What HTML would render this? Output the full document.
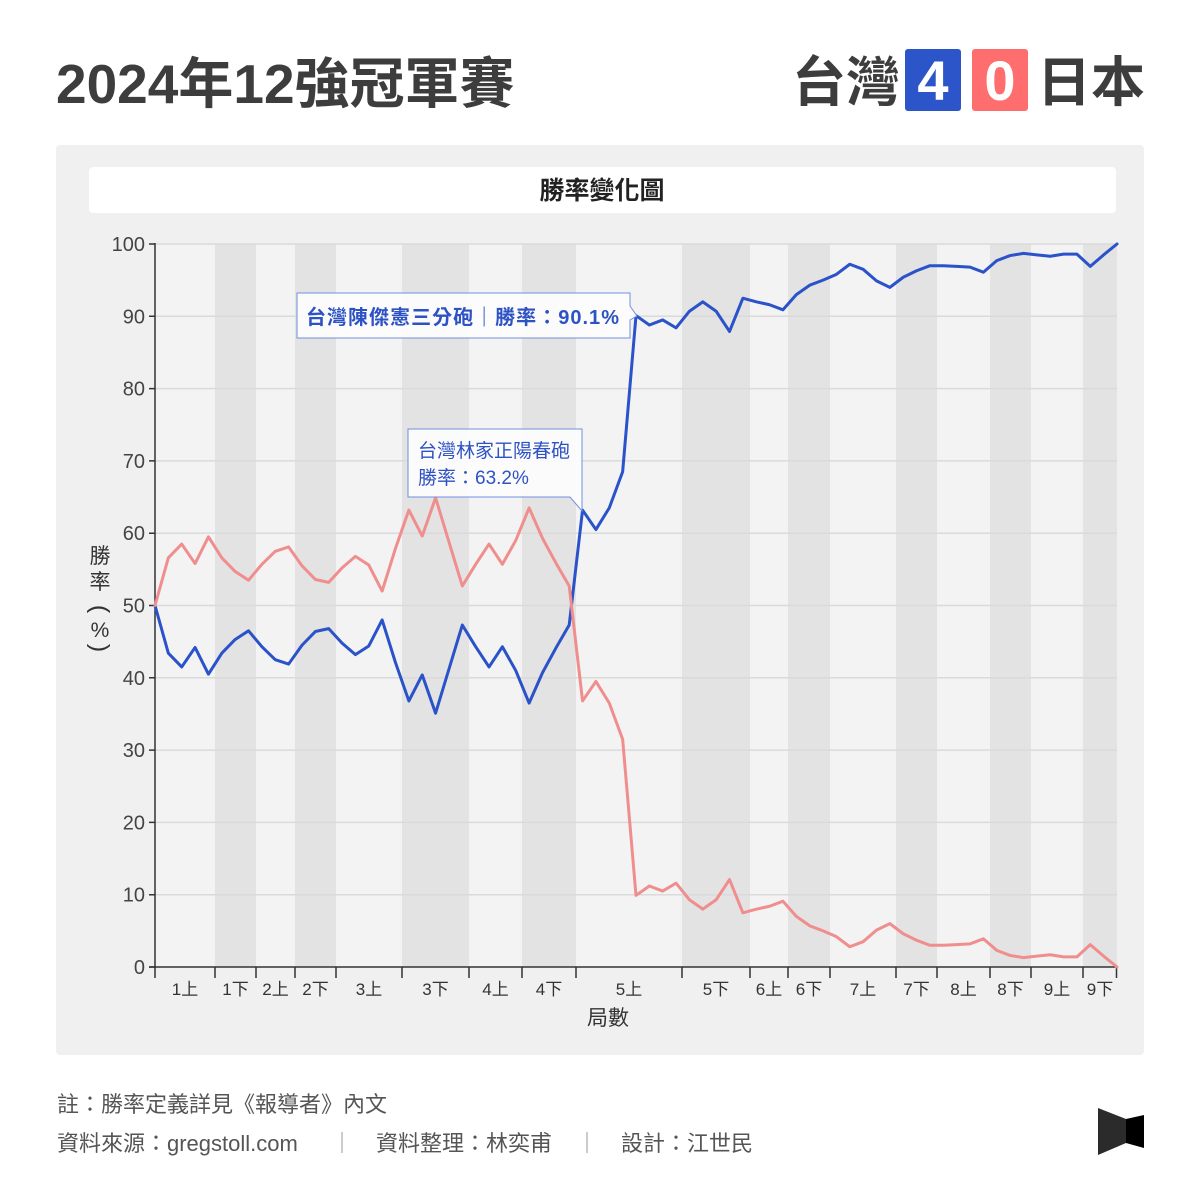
<!DOCTYPE html>
<html><head><meta charset="utf-8"><style>
html,body{margin:0;padding:0;background:#fff;}
svg{display:block;}
text{font-family:"Liberation Sans","Noto Sans CJK TC",sans-serif;}
</style></head><body>
<svg width="1200" height="1200" viewBox="0 0 1200 1200" xmlns="http://www.w3.org/2000/svg">
<rect width="1200" height="1200" fill="#fff"/>
<!-- Header -->
<text x="56" y="103" font-size="55" font-weight="bold" fill="#3d3d3d">2024年12強冠軍賽</text>
<text x="792" y="101" font-size="54" font-weight="bold" fill="#3d3d3d">台灣</text>
<rect x="905" y="49" width="56" height="62" rx="3" fill="#2b55c8"/>
<text x="933" y="100" font-size="56" font-weight="bold" fill="#fff" text-anchor="middle">4</text>
<rect x="972" y="49" width="56" height="62" rx="3" fill="#ff6e6e"/>
<text x="1000" y="100" font-size="56" font-weight="bold" fill="#fff" text-anchor="middle">0</text>
<text x="1037" y="101" font-size="54" font-weight="bold" fill="#3d3d3d">日本</text>

<!-- Card -->
<rect x="56" y="145" width="1088" height="910" rx="4" fill="#f0f0f0"/>
<rect x="89" y="167" width="1027" height="46" rx="4" fill="#fff"/>
<text x="602" y="199" font-size="25" font-weight="bold" fill="#222" text-anchor="middle">勝率變化圖</text>

<!-- Plot background -->
<rect x="155" y="244" width="962" height="723" fill="#f3f3f3"/>
<g fill="#e3e3e3">
<rect x="215" y="244" width="41" height="723"/>
<rect x="295" y="244" width="41" height="723"/>
<rect x="402" y="244" width="67" height="723"/>
<rect x="522" y="244" width="54" height="723"/>
<rect x="682" y="244" width="68" height="723"/>
<rect x="788" y="244" width="42" height="723"/>
<rect x="896" y="244" width="41" height="723"/>
<rect x="990" y="244" width="41" height="723"/>
<rect x="1083" y="244" width="34" height="723"/>
</g>
<!-- Gridlines -->
<g stroke="#dadada" stroke-width="1.5">
<line x1="155" x2="1117" y1="244" y2="244"/>
<line x1="155" x2="1117" y1="316.3" y2="316.3"/>
<line x1="155" x2="1117" y1="388.6" y2="388.6"/>
<line x1="155" x2="1117" y1="460.9" y2="460.9"/>
<line x1="155" x2="1117" y1="533.2" y2="533.2"/>
<line x1="155" x2="1117" y1="605.5" y2="605.5"/>
<line x1="155" x2="1117" y1="677.8" y2="677.8"/>
<line x1="155" x2="1117" y1="750.1" y2="750.1"/>
<line x1="155" x2="1117" y1="822.4" y2="822.4"/>
<line x1="155" x2="1117" y1="894.7" y2="894.7"/>
</g>

<!-- Axes -->
<g stroke="#333" stroke-width="1.5" fill="none">
<line x1="155" y1="243" x2="155" y2="968"/>
<line x1="149" y1="967" x2="1117" y2="967"/>
<path d="M149,244H155M149,316.3H155M149,388.6H155M149,460.9H155M149,533.2H155M149,605.5H155M149,677.8H155M149,750.1H155M149,822.4H155M149,894.7H155M149,967H155"/>
<path d="M155,967V978M215,967V978M256,967V978M295,967V978M336,967V978M402,967V978M469,967V978M522,967V978M576,967V978M682,967V978M750,967V978M788,967V978M830,967V978M896,967V978M937,967V978M990,967V978M1031,967V978M1083,967V978M1116.5,967V978"/>
</g>
<g font-size="20" fill="#444" text-anchor="end">
<text x="145" y="251">100</text>
<text x="145" y="323.3">90</text>
<text x="145" y="395.6">80</text>
<text x="145" y="467.9">70</text>
<text x="145" y="540.2">60</text>
<text x="145" y="612.5">50</text>
<text x="145" y="684.8">40</text>
<text x="145" y="757.1">30</text>
<text x="145" y="829.4">20</text>
<text x="145" y="901.7">10</text>
<text x="145" y="974">0</text>
</g>
<g font-size="17" fill="#333" text-anchor="middle">
<text x="185" y="995">1上</text>
<text x="235.5" y="995">1下</text>
<text x="275.5" y="995">2上</text>
<text x="315.5" y="995">2下</text>
<text x="369" y="995">3上</text>
<text x="435.5" y="995">3下</text>
<text x="495.5" y="995">4上</text>
<text x="549" y="995">4下</text>
<text x="629" y="995">5上</text>
<text x="716" y="995">5下</text>
<text x="769" y="995">6上</text>
<text x="809" y="995">6下</text>
<text x="863" y="995">7上</text>
<text x="916.5" y="995">7下</text>
<text x="963.5" y="995">8上</text>
<text x="1010.5" y="995">8下</text>
<text x="1057" y="995">9上</text>
<text x="1100" y="995">9下</text>
</g>
<text x="608" y="1025" font-size="21" fill="#333" text-anchor="middle">局數</text>
<!-- Y title -->
<g font-size="21" fill="#333" text-anchor="middle">
<text x="100" y="563">勝</text>
<text x="100" y="589">率</text>
<text x="100" y="609" font-size="25" transform="rotate(90 100 609)" dominant-baseline="central">(</text>
<text x="100" y="637">%</text>
<text x="100" y="648" font-size="25" transform="rotate(90 100 648)" dominant-baseline="central">)</text>
</g>

<!-- Data lines -->
<g transform="translate(155,967) scale(13.3611,-7.23)" fill="none" stroke-width="3" stroke-linejoin="round" stroke-linecap="round">
<polyline vector-effect="non-scaling-stroke" stroke="#2a52c9" points="0,50 1,43.4 2,41.5 3,44.2 4,40.5 5,43.4 6,45.3 7,46.5 8,44.3 9,42.5 10,41.9 11,44.5 12,46.4 13,46.8 14,44.8 15,43.2 16,44.4 17,48.0 18,42.1 19,36.8 20,40.4 21,35.1 22,41.2 23,47.3 24,44.3 25,41.5 26,44.3 27,41.0 28,36.5 29,40.7 30,44.1 31,47.3 32,63.2 33,60.5 34,63.5 35,68.5 36,90.1 37,88.8 38,89.5 39,88.4 40,90.7 41,92.0 42,90.7 43,87.9 44,92.5 45,92.0 46,91.6 47,90.9 48,93.0 49,94.3 50,95.0 51,95.8 52,97.2 53,96.5 54,94.9 55,94.0 56,95.4 57,96.3 58,97.0 59,97.0 60,96.9 61,96.8 62,96.1 63,97.7 64,98.4 65,98.7 66,98.5 67,98.3 68,98.6 69,98.6 70,96.9 71,98.5 72,100"/>
<polyline vector-effect="non-scaling-stroke" stroke="#f08e8e" points="0,50 1,56.6 2,58.5 3,55.8 4,59.5 5,56.6 6,54.7 7,53.5 8,55.7 9,57.5 10,58.1 11,55.5 12,53.6 13,53.2 14,55.2 15,56.8 16,55.6 17,52.0 18,57.9 19,63.2 20,59.6 21,64.9 22,58.8 23,52.7 24,55.7 25,58.5 26,55.7 27,59.0 28,63.5 29,59.3 30,55.9 31,52.7 32,36.8 33,39.5 34,36.5 35,31.5 36,9.9 37,11.2 38,10.5 39,11.6 40,9.3 41,8.0 42,9.3 43,12.1 44,7.5 45,8.0 46,8.4 47,9.1 48,7.0 49,5.7 50,5.0 51,4.2 52,2.8 53,3.5 54,5.1 55,6.0 56,4.6 57,3.7 58,3.0 59,3.0 60,3.1 61,3.2 62,3.9 63,2.3 64,1.6 65,1.3 66,1.5 67,1.7 68,1.4 69,1.4 70,3.1 71,1.5 72,0"/>
</g>

<!-- Annotations -->
<path d="M297,293H630V306L637,316L630,320V338H297Z" fill="#fdfdfe" fill-opacity="0.92" stroke="#6f8fe0" stroke-width="1"/>
<text x="306" y="324" font-size="20" font-weight="bold" fill="#2d52c4" textLength="313" lengthAdjust="spacing">台灣陳傑憲三分砲｜勝率：90.1%</text>
<path d="M408,429H582V511L570,497H408Z" fill="#fdfdfe" fill-opacity="0.92" stroke="#6f8fe0" stroke-width="1"/>
<text x="418" y="457" font-size="19" fill="#2d52c4">台灣林家正陽春砲</text>
<text x="418" y="484" font-size="19" fill="#2d52c4">勝率：63.2%</text>

<!-- Footer -->
<g font-size="22" fill="#555">
<text x="57" y="1112">註：勝率定義詳見《報導者》內文</text>
<text x="57" y="1151">資料來源：gregstoll.com</text>
<text x="376" y="1151">資料整理：林奕甫</text>
<text x="621" y="1151">設計：江世民</text>
</g>
<line x1="342" y1="1132" x2="342" y2="1153" stroke="#aaa" stroke-width="1.2"/>
<line x1="587" y1="1132" x2="587" y2="1153" stroke="#aaa" stroke-width="1.2"/>
<!-- Logo -->
<polygon points="1098,1108 1126,1119 1126,1143 1098,1155" fill="#2b2b2b"/>
<polygon points="1126,1119 1144,1115 1144,1148 1126,1143" fill="#000"/>
</svg>
</body></html>
